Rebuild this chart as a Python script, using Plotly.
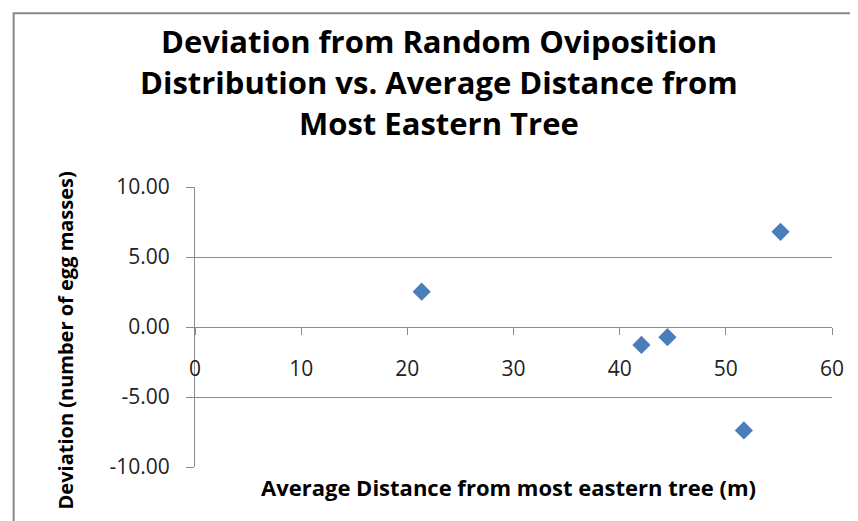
import plotly.graph_objects as go

# Data
distance_m = [21.35, 42.05, 44.5, 51.7, 55.15]
deviation = [2.52, -1.28, -0.73, -7.39, 6.80]

x_ticks = [0, 10, 20, 30, 40, 50, 60]
y_ticks = [-10, -5, 0, 5, 10]
y_tick_labels = ["%.2f" % v for v in y_ticks]  # hyphen minus, like Excel

title_lines = ["Deviation from Random Oviposition",
               "Distribution vs. Average Distance from",
               "Most Eastern Tree"]
x_title = "Average Distance from most eastern tree (m)"
y_title = "Deviation (number of egg masses)"

W, H = 858, 521
L, R, T, B = 186.5, 34, 179, 61.7
pw, ph = W - L - R, H - T - B

FONT = "'Open Sans', Lato, sans-serif"
GRID = "#8c8c8c"

fig = go.Figure()
fig.add_trace(go.Scatter(
    x=distance_m, y=deviation, mode="markers",
    marker=dict(symbol="diamond", size=14, color="#4A7EBB",
                line=dict(width=0)),
    showlegend=False, cliponaxis=False,
))

def px_x(p):
    return (p - L) / pw

def px_y(p):
    return (H - B - p) / ph

fig.update_layout(
    width=W, height=H,
    margin=dict(l=L, r=R, t=T, b=B),
    paper_bgcolor="white", plot_bgcolor="white",
    font=dict(family=FONT, color="#000000"),
    xaxis=dict(range=[0, 60], tickvals=x_ticks, showgrid=False, zeroline=False,
               showline=True, linecolor=GRID, linewidth=1,
               anchor="free", position=0.5,
               ticks="outside", ticklen=7, tickcolor=GRID, tickwidth=1,
               ticklabelstandoff=16,
               tickfont=dict(size=21, color="#222222", family=FONT)),
    yaxis=dict(range=[-10, 10], tickvals=y_ticks, ticktext=y_tick_labels,
               showgrid=True, gridcolor=GRID, gridwidth=1, zeroline=False,
               showline=True, linecolor=GRID, linewidth=1,
               ticks="outside", ticklen=8, tickcolor=GRID, tickwidth=1,
               ticklabelstandoff=12,
               tickfont=dict(size=21, color="#222222", family=FONT)),
    shapes=[dict(type="rect", xref="paper", yref="paper",
                 x0=px_x(5), x1=px_x(W + 20), y0=px_y(H + 20), y1=px_y(5),
                 line=dict(color="#888888", width=2), fillcolor="rgba(0,0,0,0)",
                 layer="below")],
)

title_y = [33, 74, 115]
for txt, yy in zip(title_lines, title_y):
    fig.add_annotation(text="<b>" + txt + "</b>", xref="paper", yref="paper",
                       x=px_x(W / 2 + 2), y=px_y(yy), showarrow=False,
                       xanchor="center", yanchor="middle",
                       font=dict(size=31, family=FONT, color="#000000"))

fig.add_annotation(text="<b>" + x_title + "</b>", xref="paper", yref="paper",
                   x=px_x(500), y=px_y(479), showarrow=False,
                   xanchor="center", yanchor="middle",
                   font=dict(size=22, family=FONT, color="#000000"))
fig.add_annotation(text="<b>" + y_title + "</b>", xref="paper", yref="paper",
                   x=px_x(57), y=px_y(333), showarrow=False, textangle=-90,
                   xanchor="center", yanchor="middle",
                   font=dict(size=20, family=FONT, color="#000000"))

fig.write_html("out.html")
